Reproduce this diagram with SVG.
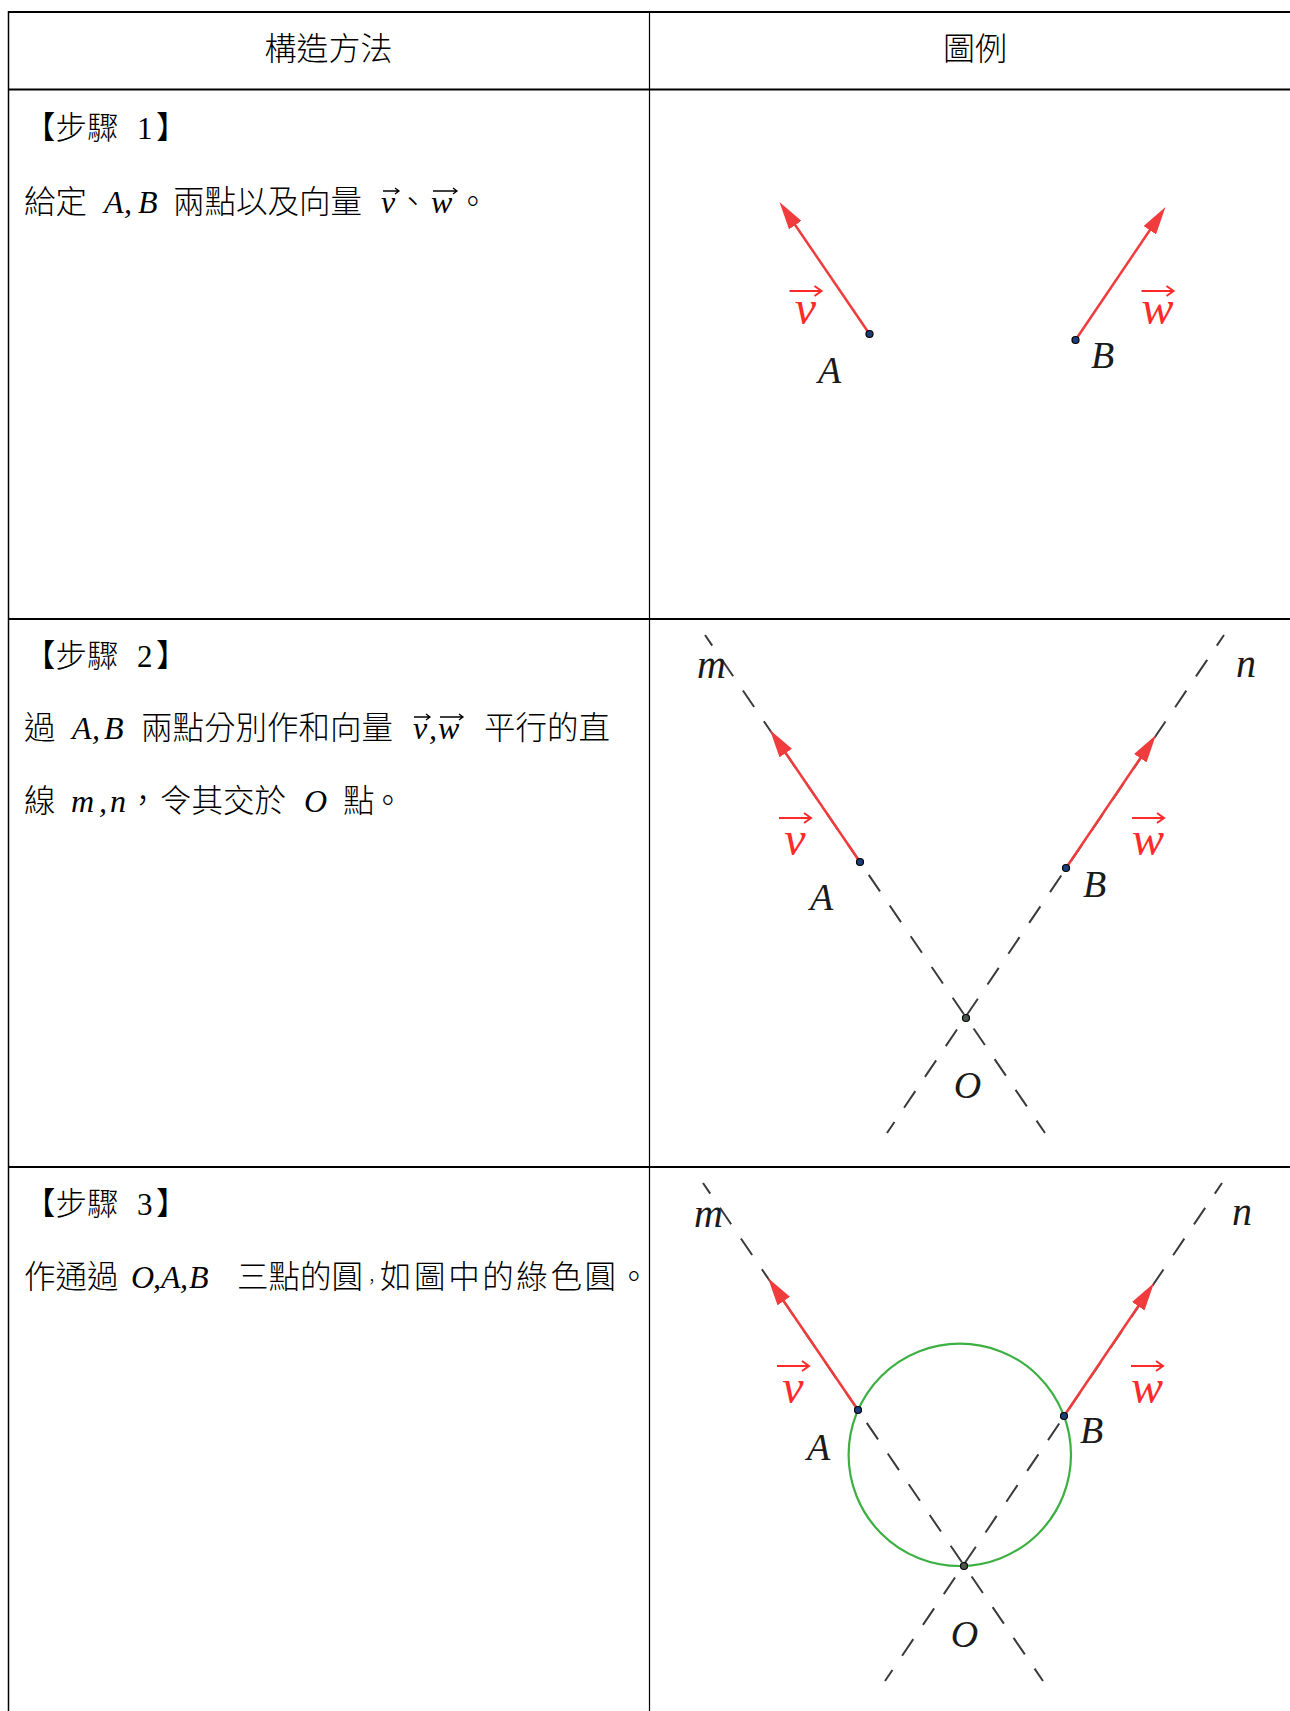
<svg xmlns="http://www.w3.org/2000/svg" width="1290" height="1711" viewBox="0 0 1290 1711">
<style>
.cjk{font-family:"Noto Sans CJK TC","Noto Sans CJK SC",sans-serif;font-size:31.5px;font-weight:300;fill:#000}
.hdr{font-size:32px}
.mi{font-family:"Liberation Serif",serif;font-style:italic;font-size:32px}
.num{font-family:"Liberation Serif",serif;font-size:31px}
.grid{stroke:#000;fill:none}
.dash{stroke:#3a3a3a;stroke-width:2;stroke-dasharray:20 17.2;stroke-dashoffset:7.2;fill:none}
.vec{stroke:#f03c3c;stroke-width:2.5;fill:none}
.pt{fill:#1c3e7a;stroke:#000;stroke-width:1.2}
.opt{fill:#4a5a4a;stroke:#000;stroke-width:1.2}
.lbl{font-family:"Liberation Serif",serif;font-style:italic;font-size:38px;fill:#1a1a1a}
.ln{font-size:40px}
.vl{font-family:"Liberation Serif",serif;font-style:italic;font-size:48px;fill:#ff2a2a}
.varr{stroke:#ff2a2a;stroke-width:2;fill:none}
.circ{stroke:#3cb043;stroke-width:2.2;fill:none}
.tarr{stroke:#000;stroke-width:1.3;fill:none}
</style>
<defs>
<marker id="ah" markerUnits="userSpaceOnUse" markerWidth="28" markerHeight="15" refX="15" refY="7.5" orient="auto" viewBox="0 0 28 15"><path d="M0,0 L28,7.5 L0,15 z" fill="#f03c3c"/></marker>
</defs>
<rect width="1290" height="1711" fill="#fff"/>

<g id="table">
<path class="grid" stroke-width="2" d="M8,12 H1290 M8,89.5 H1290 M8,619 H1290 M8,1167 H1290"/>
<path class="grid" stroke-width="1.5" d="M8.5,11 V1711"/>
<path class="grid" stroke-width="1.2" d="M649.5,12 V1711"/>
</g>

<g id="header">
<text class="cjk hdr" x="328.5" y="60" text-anchor="middle">構造方法</text>
<text class="cjk hdr" x="975" y="60" text-anchor="middle">圖例</text>
</g>

<g id="step1-text">
<text class="cjk" x="24" y="139">【步驟<tspan class="num" x="137">1</tspan><tspan x="156">】</tspan></text>
<text class="cjk" y="213"><tspan x="24">給定</tspan><tspan class="mi" x="104 124 138">A,B</tspan><tspan x="173">兩點以及向量</tspan><tspan class="mi" x="381">v</tspan><tspan x="397">、</tspan><tspan class="mi" x="431">w</tspan><tspan x="457">。</tspan></text>
<path class="tarr" d="M383,191 H399 M395,188 L399,191 L395,194 M433,191 H457 M453,188 L457,191 L453,194"/>
</g>

<g id="step2-text">
<text class="cjk" x="24" y="667">【步驟<tspan class="num" x="137">2</tspan><tspan x="156">】</tspan></text>
<text class="cjk" y="739"><tspan x="24">過</tspan><tspan class="mi" x="72 92 104">A,B</tspan><tspan x="141">兩點分別作和向量</tspan><tspan class="mi" x="413 429 438">v,w</tspan><tspan x="484">平行的直</tspan></text>
<path class="tarr" d="M414,717 H430 M426,714 L430,717 L426,720 M440,717 H463 M459,714 L463,717 L459,720"/>
<text class="cjk" y="812"><tspan x="24">線</tspan><tspan class="mi" x="71 99 110">m,n</tspan><tspan x="127">，</tspan><tspan x="160">令其交於</tspan><tspan class="mi" x="304">O</tspan><tspan x="343">點</tspan><tspan x="372">。</tspan></text>
</g>

<g id="step3-text">
<text class="cjk" y="1288"><tspan x="24">作通過</tspan><tspan class="mi" x="131 153 161 180 189">O,A,B</tspan><tspan x="237">三點的圓</tspan><tspan x="363.5" style="font-size:16.5px">，</tspan><tspan x="380" textLength="236" lengthAdjust="spacing">如圖中的綠色圓</tspan><tspan x="618">。</tspan></text>
<text class="cjk" x="24" y="1215">【步驟<tspan class="num" x="137">3</tspan><tspan x="156">】</tspan></text>
</g>

<g id="figure1" transform="translate(975.5,490)">
<g id="f1-vectors">
<line class="vec" x1="-106" y1="-156" x2="-188.7" y2="-277.3" marker-end="url(#ah)"/>
<line class="vec" x1="100" y1="-150" x2="182.7" y2="-272.2" marker-end="url(#ah)"/>
</g>
<g id="f1-A"><circle class="pt" cx="-106" cy="-156" r="3.5"/><text class="lbl" x="-146" y="-107" text-anchor="middle">A</text></g>
<g id="f1-B"><circle class="pt" cx="100" cy="-150" r="3.5"/><text class="lbl" x="127" y="-122" text-anchor="middle">B</text></g>
<g id="f1-v"><text class="vl" x="-170" y="-166" text-anchor="middle">v</text><path class="varr" d="M-186,-199 H-154 M-161,-204 L-154,-199 L-161,-194"/></g>
<g id="f1-w"><text class="vl" x="182" y="-166" text-anchor="middle">w</text><path class="varr" d="M166,-199 H198 M191,-204 L198,-199 L191,-194"/></g>
</g>

<g id="figure2" transform="translate(966,1018)">
<g id="f2-lines">
<line class="dash" x1="-261" y1="-383" x2="79" y2="115"/>
<line class="dash" x1="258" y1="-383" x2="-79" y2="115"/>
</g>
<g id="f2-vectors">
<line class="vec" x1="-106" y1="-156" x2="-188.7" y2="-277.3" marker-end="url(#ah)"/>
<line class="vec" x1="100" y1="-150" x2="182.7" y2="-272.2" marker-end="url(#ah)"/>
</g>
<g id="f2-A"><circle class="pt" cx="-106" cy="-156" r="3.5"/><text class="lbl" x="-144.5" y="-108" text-anchor="middle">A</text></g>
<g id="f2-B"><circle class="pt" cx="100" cy="-150" r="3.5"/><text class="lbl" x="128.5" y="-121" text-anchor="middle">B</text></g>
<g id="f2-O"><circle class="opt" cx="0" cy="0" r="3.5"/><text class="lbl" x="1.5" y="80" text-anchor="middle">O</text></g>
<g id="f2-m"><text class="lbl ln" x="-269" y="-340">m</text></g>
<g id="f2-n"><text class="lbl ln" x="270" y="-341">n</text></g>
<g id="f2-v"><text class="vl" x="-171" y="-163" text-anchor="middle">v</text><path class="varr" d="M-187,-200 H-155 M-162,-205 L-155,-200 L-162,-195"/></g>
<g id="f2-w"><text class="vl" x="182" y="-163" text-anchor="middle">w</text><path class="varr" d="M166,-200 H198 M191,-205 L198,-200 L191,-195"/></g>
</g>

<g id="figure3" transform="translate(964,1566)">
<g id="f3-lines">
<line class="dash" x1="-261" y1="-383" x2="79" y2="115"/>
<line class="dash" x1="258" y1="-383" x2="-79" y2="115"/>
</g>
<g id="f3-circle"><circle class="circ" cx="-4.2" cy="-111.2" r="111.2"/></g>
<g id="f3-vectors">
<line class="vec" x1="-106" y1="-156" x2="-188.7" y2="-277.3" marker-end="url(#ah)"/>
<line class="vec" x1="100" y1="-150" x2="182.7" y2="-272.2" marker-end="url(#ah)"/>
</g>
<g id="f3-A"><circle class="pt" cx="-106" cy="-156" r="3.5"/><text class="lbl" x="-145.5" y="-106" text-anchor="middle">A</text></g>
<g id="f3-B"><circle class="pt" cx="100" cy="-150" r="3.5"/><text class="lbl" x="127.5" y="-123" text-anchor="middle">B</text></g>
<g id="f3-O"><circle class="opt" cx="0" cy="0" r="3.5"/><text class="lbl" x="0.5" y="81" text-anchor="middle">O</text></g>
<g id="f3-m"><text class="lbl ln" x="-270" y="-339">m</text></g>
<g id="f3-n"><text class="lbl ln" x="268" y="-341">n</text></g>
<g id="f3-v"><text class="vl" x="-171" y="-163" text-anchor="middle">v</text><path class="varr" d="M-187,-200 H-155 M-162,-205 L-155,-200 L-162,-195"/></g>
<g id="f3-w"><text class="vl" x="183" y="-163" text-anchor="middle">w</text><path class="varr" d="M167,-200 H199 M192,-205 L199,-200 L192,-195"/></g>
</g>
</svg>
